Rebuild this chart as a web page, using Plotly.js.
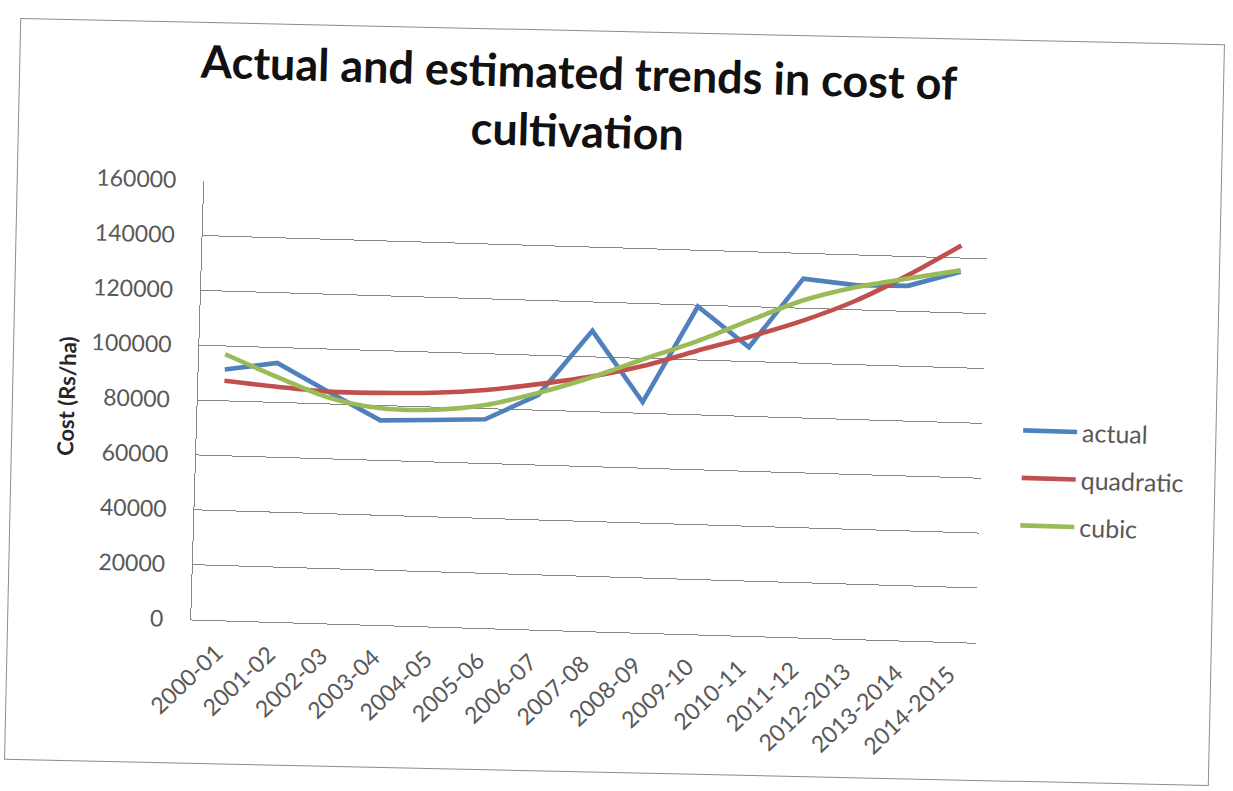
<!DOCTYPE html>
<html>
<head>
<meta charset="utf-8">
<script src="https://cdn.plot.ly/plotly-3.0.1.min.js"></script>
<style>
  html, body { margin: 0; padding: 0; background: #ffffff; width: 1233px; height: 791px; overflow: hidden; }
  #frame {
    position: absolute;
    left: 11.5px; top: 31.25px;
    width: 1205px; height: 742px;
    box-sizing: border-box;
    border: 1.5px solid #8c8c8c;
    transform-origin: 50% 50%;
    transform: rotate(1.25deg);
  }
  #sheet {
    position: absolute;
    left: 12px; top: 32px;
    width: 1206px; height: 742px;
    transform-origin: 604.5px 363.5px;
    transform: rotate(1.7deg);
  }
  #chart { width: 1206px; height: 742px; }
</style>
</head>
<body>
<div id="frame"></div>
<div id="sheet"><div id="chart"></div></div>
<script>
// Crop years on the category axis
const years = ['2000-01', '2001-02', '2002-03', '2003-04', '2004-05', '2005-06', '2006-07',
  '2007-08', '2008-09', '2009-10', '2010-11', '2011-12', '2012-2013', '2013-2014', '2014-2015'];

// Cost of cultivation, Rs/ha
const actualCost = [91400, 94400, 84400, 74600, 75300, 76100, 85500,
  109500, 84100, 119500, 105200, 130800, 129000, 129300, 135000];
const quadraticCost = [87300, 85700, 84500, 84600, 85200, 86800, 89500,
  92800, 97300, 103300, 109000, 115400, 123200, 133200, 144600];
const cubicCost = [97000, 89300, 82300, 79000, 79000, 81300, 86300,
  92500, 99800, 106800, 115000, 122800, 128200, 132000, 135500];

const seriesNames = ['actual', 'quadratic', 'cubic'];
const seriesColors = ['#4f81bd', '#c0504d', '#9bbb59'];

const traces = [
  { x: years, y: actualCost, shape: 'linear' },
  { x: years, y: quadraticCost, shape: 'spline' },
  { x: years, y: cubicCost, shape: 'spline' }
].map((s, i) => ({
  type: 'scatter',
  mode: 'lines',
  name: seriesNames[i],
  legendgroup: seriesNames[i],
  x: s.x,
  y: s.y,
  line: { color: seriesColors[i], width: 4.6, shape: s.shape, smoothing: 0.8 },
  hoverinfo: 'x+y'
}));

const gridGray = '#868686';
const labelGray = '#595959';

const layout = {
  width: 1206,
  height: 742,
  paper_bgcolor: 'rgba(0,0,0,0)',
  plot_bgcolor: 'rgba(0,0,0,0)',
  margin: { l: 185.5, r: 234.5, t: 160.5, b: 141.5 },
  font: { family: 'Lato, "Open Sans", sans-serif', color: labelGray },
  title: {
    text: 'Actual and estimated trends in cost of<br>cultivation',
    font: { family: 'Lato, sans-serif', size: 45, color: '#111111', weight: 700 },
    xref: 'container', x: 0.4623, xanchor: 'center',
    yref: 'container', y: 0.922, yanchor: 'top'
  },
  showlegend: true,
  legend: {
    xref: 'container', x: 0.835, xanchor: 'left',
    yref: 'container', y: 0.51, yanchor: 'top',
    font: { family: 'Lato, sans-serif', size: 25, color: labelGray },
    itemwidth: 54,
    tracegroupgap: 12,
    bgcolor: 'rgba(0,0,0,0)'
  },
  xaxis: {
    type: 'category',
    range: [-0.5, 14.5],
    showgrid: false,
    showline: true,
    linecolor: gridGray,
    linewidth: 1.3,
    ticks: '',
    tickangle: -45,
    ticklabelstandoff: 9,
    tickfont: { family: 'Lato, sans-serif', size: 23, color: labelGray },
    fixedrange: true
  },
  yaxis: {
    range: [0, 160000],
    tick0: 0,
    dtick: 20000,
    tickformat: 'd',
    showgrid: true,
    gridcolor: gridGray,
    gridwidth: 1.3,
    zeroline: false,
    showline: true,
    linecolor: gridGray,
    linewidth: 1.3,
    ticks: '',
    ticklabelstandoff: 22,
    tickfont: { family: 'Lato, sans-serif', size: 23, color: labelGray },
    title: {
      text: 'Cost (Rs/ha)',
      font: { family: 'Lato, sans-serif', size: 22, color: '#262626', weight: 700 },
      standoff: 8
    },
    fixedrange: true
  }
};

Plotly.newPlot('chart', traces, layout, { displayModeBar: false, responsive: false });
</script>
</body>
</html>
